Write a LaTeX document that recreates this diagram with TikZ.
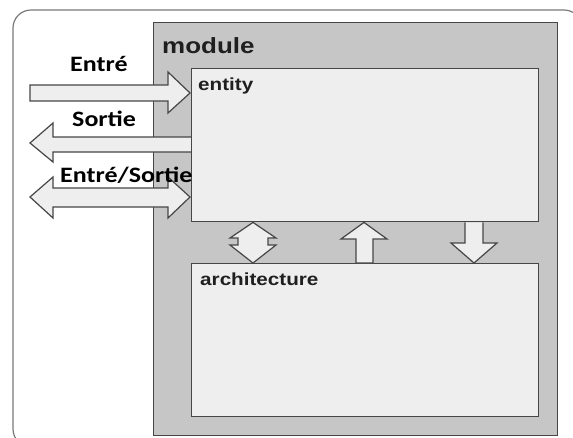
\documentclass[tikz,border=0pt]{standalone}
\usepackage{fontspec}
\newfontfamily\lblfont{Carlito}
\newfontfamily\boxfont{Liberation Sans}
\definecolor{modgray}{HTML}{C6C6C6}
\definecolor{panel}{HTML}{EEEEEE}
\definecolor{edge}{HTML}{464646}
\definecolor{frame}{HTML}{7A7A7A}
\begin{document}
\begin{tikzpicture}[x=1pt,y=-1pt,
  box/.style={draw=edge, fill=panel, line width=1.4pt, anchor=north west, inner sep=0pt},
  blockarrow/.style={draw=edge, fill=panel, line width=1.2pt, line join=miter},
  portlabel/.style={anchor=base west, inner sep=0pt, xscale=1.18,
    font=\lblfont\bfseries\fontsize{22}{26}\selectfont},
  boxlabel/.style={anchor=base west, inner sep=0pt, xscale=1.18, text=black!88}]
\useasboundingbox (0,0) rectangle (573,437);
\fill[white] (0,0) rectangle (573,437);
% outer frame
\draw[frame, line width=1.2pt, rounded corners=18pt] (13,10) rectangle (582,447);
% module container
\node[box, fill=modgray, minimum width=404pt, minimum height=413pt] (module) at (153,22) {};
% ports on the left side
\draw[blockarrow] (30,85) -- (168,85) -- (168,72) -- (190,93) -- (168,113) -- (168,101) -- (30,101) -- cycle;
\draw[blockarrow] (30,143) -- (53,123) -- (53,137) -- (192,137) -- (192,152) -- (53,152) -- (53,162) -- cycle;
\draw[blockarrow] (30,197) -- (53,177) -- (53,188) -- (168,188) -- (168,177) -- (190,197) -- (168,218) -- (168,207) -- (53,207) -- (53,218) -- cycle;
% entity and architecture
\node[box, minimum width=347pt, minimum height=153pt] (entity) at (191,68) {};
\node[box, minimum width=347pt, minimum height=153pt] (arch) at (191,263) {};
% links between entity and architecture
\draw[blockarrow] (entity.south -| 253,0) -- (276,238) -- (268,238) -- (268,245) -- (276,245) -- (arch.north -| 253,0) -- (230,245) -- (238,245) -- (238,238) -- (230,238) -- cycle;
\draw[blockarrow] (entity.south -| 364,0) -- (387,239) -- (373,239) -- (arch.north -| 373,0) -- (arch.north -| 356,0) -- (356,239) -- (341,239) -- cycle;
\draw[blockarrow] (entity.south -| 465,0) -- (465,243) -- (451,243) -- (arch.north -| 474,0) -- (497,243) -- (483,243) -- (entity.south -| 483,0);
% labels
\node[boxlabel, font=\boxfont\bfseries\fontsize{22}{26}\selectfont] (tmod) at (162,53) {module};
\node[boxlabel, font=\boxfont\bfseries\fontsize{17.5}{21}\selectfont] (tent) at (198,90) {entity};
\node[boxlabel, font=\boxfont\bfseries\fontsize{17.5}{21}\selectfont] (tarch) at (200,285) {architecture};
\node[portlabel] (tin) at (70,71) {Entré};
\node[portlabel] (tout) at (72,126) {Sortie};
\node[portlabel] (tio) at (60,182) {Entré/Sortie};
\end{tikzpicture}
\end{document}
